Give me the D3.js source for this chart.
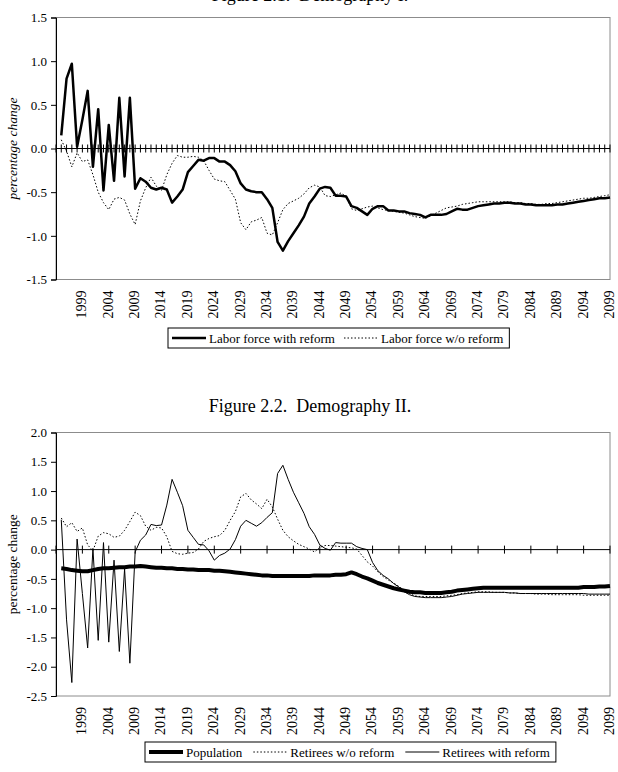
<!DOCTYPE html>
<html>
<head>
<meta charset="utf-8">
<script src="https://cdn.jsdelivr.net/npm/d3@7"></script>
<style>
  body { margin: 0; background: #fff; }
  svg { display: block; font-family: "Liberation Serif", "Times New Roman", serif; }
</style>
</head>
<body>
<div id="charts"></div>
<script>
// category axis runs 1994..2099, series start in 1995
const years = d3.range(1994, 2100);
const dataYears = d3.range(1995, 2100);
const tickYears = d3.range(1999, 2100, 5);

const laborWithReform = [
  0.15, 0.80, 0.97, 0.02, 0.33, 0.66, -0.21, 0.45, -0.48, 0.27,
  -0.37, 0.58, -0.32, 0.58, -0.46, -0.34, -0.38, -0.45, -0.47, -0.45,
  -0.47, -0.62, -0.55, -0.47, -0.27, -0.20, -0.13, -0.14, -0.11, -0.11,
  -0.15, -0.15, -0.19, -0.26, -0.40, -0.47, -0.49, -0.50, -0.50, -0.58,
  -0.68, -1.07, -1.17, -1.06, -0.97, -0.88, -0.78, -0.63, -0.55, -0.46,
  -0.44, -0.45, -0.54, -0.54, -0.55, -0.66, -0.68, -0.72, -0.76, -0.69,
  -0.66, -0.66, -0.71, -0.71, -0.72, -0.72, -0.74, -0.75, -0.76, -0.79,
  -0.76, -0.76, -0.76, -0.75, -0.72, -0.69, -0.70, -0.70, -0.68, -0.66,
  -0.65, -0.64, -0.63, -0.63, -0.62, -0.62, -0.63, -0.63, -0.64, -0.64,
  -0.65, -0.65, -0.65, -0.65, -0.64, -0.64, -0.63, -0.62, -0.61, -0.60,
  -0.59, -0.58, -0.57, -0.57, -0.56
];
const laborWithoutReform = [
  0.10, -0.03, -0.21, -0.05, -0.15, -0.13, -0.30, -0.50, -0.62, -0.70,
  -0.58, -0.56, -0.59, -0.75, -0.87, -0.60, -0.45, -0.33, -0.43, -0.48,
  -0.30, -0.17, -0.08, -0.10, -0.10, -0.09, -0.10, -0.14, -0.25, -0.35,
  -0.37, -0.38, -0.48, -0.58, -0.85, -0.93, -0.84, -0.82, -0.79, -0.97,
  -0.99, -0.85, -0.70, -0.63, -0.60, -0.57, -0.52, -0.45, -0.42, -0.44,
  -0.54, -0.55, -0.53, -0.51, -0.55, -0.69, -0.71, -0.69, -0.67, -0.66,
  -0.68, -0.70, -0.71, -0.72, -0.73, -0.74, -0.76, -0.78, -0.79, -0.80,
  -0.77, -0.74, -0.71, -0.68, -0.67, -0.66, -0.64, -0.63, -0.62, -0.61,
  -0.61, -0.61, -0.61, -0.61, -0.61, -0.61, -0.62, -0.62, -0.63, -0.63,
  -0.64, -0.64, -0.63, -0.63, -0.62, -0.61, -0.60, -0.59, -0.58, -0.57,
  -0.57, -0.56, -0.55, -0.54, -0.53
];
const population = [
  -0.32, -0.33, -0.35, -0.36, -0.37, -0.37, -0.35, -0.33, -0.32, -0.32,
  -0.31, -0.30, -0.30, -0.29, -0.29, -0.28, -0.29, -0.30, -0.31, -0.31,
  -0.32, -0.32, -0.33, -0.33, -0.34, -0.34, -0.35, -0.35, -0.35, -0.36,
  -0.36, -0.37, -0.38, -0.39, -0.40, -0.41, -0.42, -0.43, -0.44, -0.44,
  -0.45, -0.45, -0.45, -0.45, -0.45, -0.45, -0.45, -0.45, -0.44, -0.44,
  -0.44, -0.44, -0.43, -0.43, -0.42, -0.39, -0.42, -0.46, -0.49, -0.53,
  -0.57, -0.60, -0.63, -0.66, -0.68, -0.70, -0.72, -0.73, -0.73, -0.74,
  -0.74, -0.74, -0.74, -0.73, -0.72, -0.70, -0.69, -0.68, -0.67, -0.66,
  -0.65, -0.65, -0.65, -0.65, -0.65, -0.65, -0.65, -0.65, -0.65, -0.65,
  -0.65, -0.65, -0.65, -0.65, -0.65, -0.65, -0.65, -0.65, -0.65, -0.64,
  -0.64, -0.64, -0.63, -0.63, -0.62
];
const retireesWithoutReform = [
  0.54, 0.39, 0.46, 0.31, 0.37, 0.08, -0.02, 0.23, 0.29, 0.27,
  0.21, 0.23, 0.33, 0.48, 0.64, 0.58, 0.40, 0.33, 0.38, 0.37,
  0.22, -0.03, -0.07, -0.08, -0.06, -0.05, 0.01, 0.14, 0.19, 0.22,
  0.24, 0.33, 0.50, 0.65, 0.90, 0.96, 0.85, 0.78, 0.70, 0.86,
  0.73, 0.52, 0.33, 0.22, 0.15, 0.09, 0.05, 0.01, -0.04, 0.04,
  0.07, 0.07, 0.06, 0.05, 0.04, 0.03, 0.01, -0.10, -0.21, -0.28,
  -0.38, -0.46, -0.52, -0.57, -0.63, -0.69, -0.75, -0.79, -0.80, -0.80,
  -0.80, -0.80, -0.80, -0.79, -0.78, -0.77, -0.75, -0.74, -0.73, -0.72,
  -0.72, -0.72, -0.73, -0.73, -0.73, -0.74, -0.74, -0.75, -0.75, -0.75,
  -0.76, -0.76, -0.76, -0.77, -0.77, -0.77, -0.77, -0.77, -0.77, -0.78,
  -0.78, -0.78, -0.78, -0.78, -0.78
];
const retireesWithReform = [
  0.51, -1.20, -2.27, 0.18, -0.75, -1.68, 0.02, -1.55, 0.12, -1.58,
  -0.18, -1.74, -0.33, -1.94, -0.04, 0.16, 0.25, 0.43, 0.41, 0.42,
  0.76, 1.20, 0.98, 0.75, 0.33, 0.21, 0.09, 0.08, -0.02, -0.18,
  -0.10, -0.06, 0.01, 0.17, 0.40, 0.50, 0.45, 0.40, 0.46, 0.55,
  0.63, 1.30, 1.44, 1.20, 0.98, 0.80, 0.62, 0.39, 0.26, 0.08,
  0.02, -0.01, 0.12, 0.11, 0.11, 0.11, 0.05, 0.02, 0.00, -0.22,
  -0.36, -0.44, -0.50, -0.58, -0.64, -0.72, -0.77, -0.80, -0.81, -0.82,
  -0.82, -0.82, -0.82, -0.81, -0.80, -0.78, -0.76, -0.75, -0.74, -0.73,
  -0.73, -0.73, -0.73, -0.73, -0.73, -0.74, -0.74, -0.75, -0.75, -0.75,
  -0.75, -0.75, -0.75, -0.75, -0.75, -0.75, -0.75, -0.75, -0.75, -0.75,
  -0.76, -0.76, -0.76, -0.76, -0.76
];

const yTicks1 = [-1.5, -1.0, -0.5, 0.0, 0.5, 1.0, 1.5];
const yTicks2 = [-2.5, -2.0, -1.5, -1.0, -0.5, 0.0, 0.5, 1.0, 1.5, 2.0];

const w = 618;
const h = 772;
const left = 56;
const right = 610;

const svg = d3.select('#charts')
  .append('svg')
  .attr('width', w)
  .attr('height', h);

const x = d3.scalePoint()
  .domain(years)
  .range([left, right]);

const fmt = d => d.toFixed(1);

function drawChart(opt) {
  const g = svg.append('g');
  const y = d3.scaleLinear()
    .domain(d3.extent(opt.yTicks))
    .range([opt.bottom, opt.top]);

  g.append('text')
    .attr('x', 310)
    .attr('y', opt.titleY)
    .attr('text-anchor', 'middle')
    .style('font-size', '18px')
    .style('white-space', 'pre')
    .text(opt.title);

  // plot area frame
  g.append('rect')
    .attr('x', left)
    .attr('y', opt.top)
    .attr('width', right - left)
    .attr('height', opt.bottom - opt.top)
    .attr('fill', 'none')
    .attr('stroke', '#8c8c8c')
    .attr('stroke-width', 1);

  const yAxis = d3.axisLeft(y)
    .tickValues(opt.yTicks)
    .tickFormat(fmt)
    .tickSize(5)
    .tickPadding(4);

  g.append('g')
    .attr('transform', `translate(${left},0)`)
    .call(yAxis)
    .attr('font-family', null)
    .attr('font-size', null)
    .call(s => s.selectAll('text').style('font-size', '13px').attr('fill', '#000'))
    .call(s => s.selectAll('line,path').attr('stroke', '#000'));

  g.append('text')
    .attr('transform', `translate(${opt.labelX},${(opt.top + opt.bottom) / 2}) rotate(-90)`)
    .attr('text-anchor', 'middle')
    .style('font-size', '13.5px')
    .style('font-style', opt.italicLabel ? 'italic' : 'normal')
    .text('percentage change');

  // category axis across zero, cross tick marks
  const y0 = y(0);
  g.append('line')
    .attr('x1', left).attr('x2', right)
    .attr('y1', y0).attr('y2', y0)
    .attr('stroke', '#000');
  g.append('g')
    .selectAll('line')
    .data(opt.crossTicks)
    .enter()
    .append('line')
    .attr('x1', d => x(d)).attr('x2', d => x(d))
    .attr('y1', y0 - 4).attr('y2', y0 + 4)
    .attr('stroke', '#000');

  g.append('g')
    .selectAll('text')
    .data(tickYears)
    .enter()
    .append('text')
    .attr('transform', d => `translate(${x(d) - 1},${opt.bottom + 11}) rotate(-90)`)
    .attr('text-anchor', 'end')
    .attr('dy', '0.35em')
    .style('font-size', '14px')
    .text(d => d);

  const line = d3.line()
    .x((d, i) => x(dataYears[i]))
    .y(d => y(d));

  opt.series.forEach(s => {
    g.append('path')
      .datum(s.values)
      .attr('d', line)
      .attr('fill', 'none')
      .attr('stroke', '#000')
      .attr('stroke-width', s.width)
      .attr('stroke-dasharray', s.dash || null)
      .attr('stroke-linejoin', 'round');
  });

  // legend
  const lg = g.append('g');
  let cx = opt.legendX + 4;
  const ly = opt.legendY + 10;
  opt.legend.forEach(s => {
    lg.append('line')
      .attr('x1', cx).attr('x2', cx + 34)
      .attr('y1', ly).attr('y2', ly)
      .attr('stroke', '#000')
      .attr('stroke-width', s.width)
      .attr('stroke-dasharray', s.dash || null);
    const t = lg.append('text')
      .attr('x', cx + 37)
      .attr('y', ly)
      .attr('dy', '0.35em')
      .style('font-size', '13px')
      .text(s.name);
    cx += 37 + t.node().getComputedTextLength() + opt.legendGap;
  });
  lg.insert('rect', ':first-child')
    .attr('x', opt.legendX)
    .attr('y', opt.legendY)
    .attr('width', cx - opt.legendX - opt.legendGap + 6)
    .attr('height', 20)
    .attr('fill', '#fff')
    .attr('stroke', '#000');
}

const lfWith = { name: 'Labor force with reform', values: laborWithReform, width: 2.5 };
const lfWithout = { name: 'Labor force w/o reform', values: laborWithoutReform, width: 1, dash: '1.5,2' };
drawChart({
  title: 'Figure 2.1.  Demography I.',
  titleY: 0.5,
  top: 17.5,
  bottom: 279.5,
  yTicks: yTicks1,
  labelX: 17,
  italicLabel: true,
  crossTicks: years,
  series: [lfWithout, lfWith],
  legend: [lfWith, lfWithout],
  legendX: 168,
  legendY: 328,
  legendGap: 9
});

const pop = { name: 'Population', values: population, width: 4 };
const retWithout = { name: 'Retirees w/o reform', values: retireesWithoutReform, width: 1, dash: '1.5,2' };
const retWith = { name: 'Retirees with reform', values: retireesWithReform, width: 1 };
drawChart({
  title: 'Figure 2.2.  Demography II.',
  titleY: 412,
  top: 432.5,
  bottom: 696,
  yTicks: yTicks2,
  labelX: 17,
  italicLabel: false,
  crossTicks: years.filter((d, i) => i % 5 === 0),
  series: [retWithout, retWith, pop],
  legend: [pop, retWithout, retWith],
  legendX: 145,
  legendY: 742,
  legendGap: 11
});
</script>
</body>
</html>
